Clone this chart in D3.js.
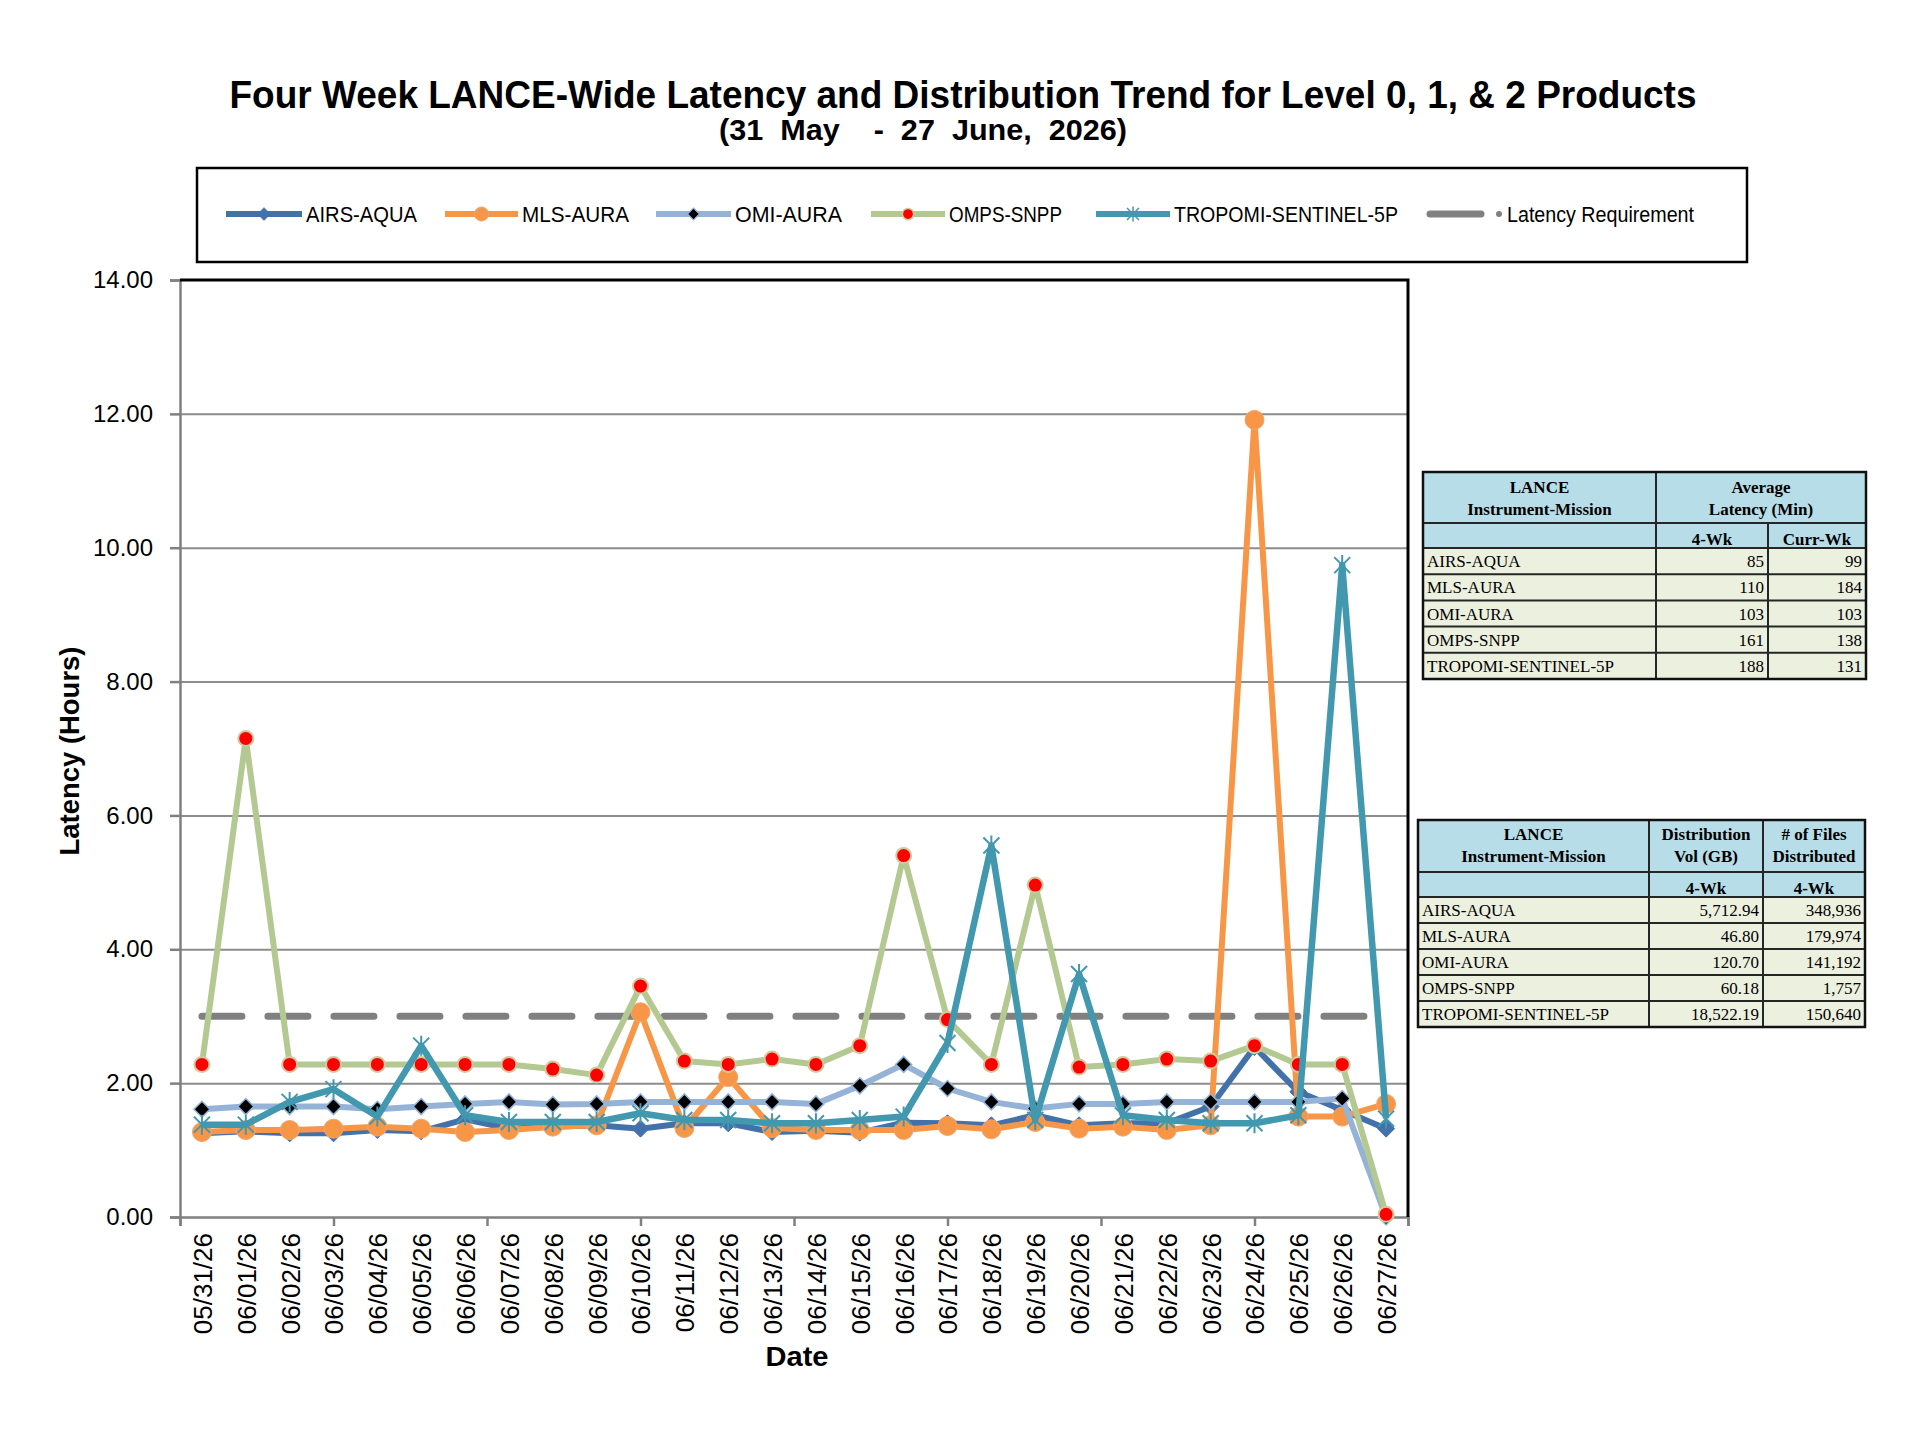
<!DOCTYPE html>
<html lang="en">
<head>
<meta charset="UTF-8">
<title>Four Week LANCE-Wide Latency and Distribution Trend</title>
<script src="https://d3js.org/d3.v7.min.js"></script>
<style>
  body { margin: 0; background: #fff; }
  svg { display: block; }
  text { font-family: "Liberation Sans", Arial, sans-serif; fill: #000; }
  .narrow { font-family: "Liberation Sans Narrow", "Arial Narrow", "Liberation Sans", sans-serif; }
  .tbl text { font-family: "Liberation Serif", "DejaVu Serif", serif; }
</style>
</head>
<body>
<svg id="chart" width="1920" height="1440"></svg>

<script>
// ---- data ----
const dates = ["05/31/26", "06/01/26", "06/02/26", "06/03/26", "06/04/26", "06/05/26", "06/06/26",
  "06/07/26", "06/08/26", "06/09/26", "06/10/26", "06/11/26", "06/12/26", "06/13/26",
  "06/14/26", "06/15/26", "06/16/26", "06/17/26", "06/18/26", "06/19/26", "06/20/26",
  "06/21/26", "06/22/26", "06/23/26", "06/24/26", "06/25/26", "06/26/26", "06/27/26"];

const airsAqua = [1.25, 1.28, 1.25, 1.25, 1.30, 1.28, 1.46, 1.32, 1.35, 1.37, 1.32, 1.40, 1.40, 1.27,
  1.29, 1.26, 1.41, 1.40, 1.37, 1.52, 1.37, 1.40, 1.40, 1.65, 2.54, 1.87, 1.60, 1.32];
const mlsAura = [1.27, 1.30, 1.30, 1.32, 1.35, 1.32, 1.27, 1.30, 1.35, 1.37, 3.06, 1.33, 2.09, 1.33,
  1.30, 1.30, 1.30, 1.36, 1.31, 1.42, 1.32, 1.35, 1.30, 1.37, 11.91, 1.50, 1.50, 1.69];
const omiAura = [1.61, 1.65, 1.65, 1.65, 1.61, 1.65, 1.69, 1.72, 1.68, 1.69, 1.72, 1.72, 1.72, 1.72,
  1.69, 1.96, 2.28, 1.92, 1.72, 1.62, 1.69, 1.69, 1.72, 1.72, 1.72, 1.72, 1.77, 0.00];
const ompsSnpp = [2.28, 7.15, 2.28, 2.28, 2.28, 2.28, 2.28, 2.28, 2.21, 2.12, 3.45, 2.33, 2.28, 2.36,
  2.28, 2.56, 5.40, 2.95, 2.28, 4.96, 2.24, 2.28, 2.36, 2.33, 2.56, 2.28, 2.28, 0.04];
const tropomi = [1.38, 1.38, 1.72, 1.91, 1.50, 2.56, 1.52, 1.42, 1.42, 1.42, 1.55, 1.45, 1.45, 1.40,
  1.40, 1.45, 1.50, 2.60, 5.55, 1.45, 3.63, 1.52, 1.45, 1.40, 1.40, 1.52, 9.74, 1.47];
const latencyReq = [3, 3, 3, 3, 3, 3, 3, 3, 3, 3, 3, 3, 3, 3,
  3, 3, 3, 3, 3, 3, 3, 3, 3, 3, 3, 3, 3, 3];

const yTicks = [0, 2, 4, 6, 8, 10, 12, 14];

// table values
const missions = ["AIRS-AQUA", "MLS-AURA", "OMI-AURA", "OMPS-SNPP", "TROPOMI-SENTINEL-5P"];
const latency4Wk = ["85", "110", "103", "161", "188"];
const latencyCurrWk = ["99", "184", "103", "138", "131"];
const distVol4Wk = ["5,712.94", "46.80", "120.70", "60.18", "18,522.19"];
const filesDist4Wk = ["348,936", "179,974", "141,192", "1,757", "150,640"];

// ---- series styling ----
const series = [
  {name: "AIRS-AQUA", values: airsAqua, color: "#4372aa", width: 6, marker: "airs"},
  {name: "MLS-AURA", values: mlsAura, color: "#f79646", width: 6, marker: "mls"},
  {name: "OMI-AURA", values: omiAura, color: "#95b3d7", width: 6, marker: "omi"},
  {name: "OMPS-SNPP", values: ompsSnpp, color: "#b3c991", width: 6, marker: "omps"},
  {name: "TROPOMI-SENTINEL-5P", values: tropomi, color: "#4198af", width: 6.5, marker: "tropomi"}
];

const svg = d3.select("#chart");
const plot = {left: 180, right: 1408, top: 280, bottom: 1217};

const x = d3.scalePoint().domain(dates).range([plot.left, plot.right]).padding(0.5);
const y = d3.scaleLinear().domain([0, 14]).range([plot.bottom, plot.top]);

const diamond = r => `M0,${-r}L${r},0L0,${r}L${-r},0Z`;

function drawMarker(sel, kind, color) {
  if (kind === "airs") {
    sel.append("path").attr("d", diamond(8.5))
      .attr("fill", color).attr("stroke", color).attr("stroke-width", 1);
  } else if (kind === "mls") {
    sel.append("circle").attr("r", 9.5).attr("fill", color).attr("stroke", "#f5a56a").attr("stroke-width", 1);
  } else if (kind === "omi") {
    sel.append("path").attr("d", diamond(8))
      .attr("fill", "#000").attr("stroke", "#95b3d7").attr("stroke-width", 1.5);
  } else if (kind === "omps") {
    sel.append("circle").attr("r", 7.5).attr("fill", "#ff0000").attr("stroke", "#d2c9a0").attr("stroke-width", 2);
  } else if (kind === "tropomi") {
    sel.append("path").attr("d", "M-8,-8L8,8M-8,8L8,-8M0,-10L0,10")
      .attr("fill", "none").attr("stroke", color).attr("stroke-width", 2);
  }
}

// ---- title ----
svg.append("text").attr("class", "narrow")
  .attr("x", 963).attr("y", 108).attr("text-anchor", "middle")
  .attr("font-size", 38).attr("font-weight", "bold")
  .attr("textLength", 1467).attr("lengthAdjust", "spacingAndGlyphs")
  .text("Four Week LANCE-Wide Latency and Distribution Trend for Level 0, 1, & 2 Products");
svg.append("text").attr("class", "narrow")
  .attr("x", 923).attr("y", 140).attr("text-anchor", "middle")
  .attr("font-size", 30).attr("font-weight", "bold")
  .attr("textLength", 408).attr("lengthAdjust", "spacingAndGlyphs")
  .style("white-space", "pre")
  .text("(31  May    -  27  June,  2026)");

// ---- legend ----
const legend = svg.append("g");
legend.append("rect").attr("x", 197).attr("y", 168).attr("width", 1550).attr("height", 94)
  .attr("fill", "#fff").attr("stroke", "#000").attr("stroke-width", 2.5);
const legendItems = [
  {lx: 226, len: 76, tw: 111},
  {lx: 445, len: 73, tw: 107},
  {lx: 656, len: 75, tw: 107},
  {lx: 871, len: 74, tw: 113},
  {lx: 1096, len: 74, tw: 224},
  {lx: 1430, len: 51, tw: 209}
];
const legendData = series.map((s, i) => Object.assign({}, s, legendItems[i]))
  .concat([Object.assign({name: "Latency Requirement", color: "#808080", width: 7, marker: null}, legendItems[5])]);
const li = legend.selectAll("g.item").data(legendData).join("g").attr("class", "item");
li.append("line")
  .attr("x1", d => d.lx).attr("x2", d => d.lx + d.len).attr("y1", 214).attr("y2", 214)
  .attr("stroke", d => d.color).attr("stroke-width", d => d.marker ? 6 : 7)
  .attr("stroke-linecap", d => d.marker ? "butt" : "round");
li.filter(d => d.marker).each(function(d) {
  const g = d3.select(this).append("g")
    .attr("transform", `translate(${d.lx + d.len / 2},214) scale(0.75)`);
  drawMarker(g, d.marker, d.color);
});
li.filter(d => !d.marker).append("circle")
  .attr("cx", d => d.lx + d.len + 18).attr("cy", 214).attr("r", 3).attr("fill", "#808080");
li.append("text").attr("class", "narrow")
  .attr("x", d => d.lx + d.len + (d.marker ? 4 : 26)).attr("y", 222)
  .attr("font-size", 22)
  .attr("textLength", d => d.marker ? d.tw : d.tw - 22).attr("lengthAdjust", "spacingAndGlyphs")
  .text(d => d.name);

// ---- gridlines ----
svg.append("g").attr("transform", `translate(${plot.left},0)`)
  .call(d3.axisLeft(y).tickValues(yTicks.slice(1, -1)).tickSize(-(plot.right - plot.left)).tickFormat(""))
  .call(g => g.select(".domain").remove())
  .selectAll("line").attr("stroke", "#8c8c8c").attr("stroke-width", 2);

// ---- y axis ----
svg.append("g").attr("transform", `translate(${plot.left},0)`)
  .call(d3.axisLeft(y).tickValues(yTicks).tickFormat(d3.format(".2f")).tickSize(10).tickPadding(17))
  .call(g => g.select(".domain").attr("stroke", "#808080").attr("stroke-width", 2.5))
  .call(g => g.selectAll(".tick line").attr("stroke", "#808080").attr("stroke-width", 2.5))
  .call(g => g.selectAll(".tick text").attr("font-size", 24).attr("fill", "#000")
    .style("font-family", "'Liberation Sans', Arial, sans-serif"));

// ---- x axis: tick marks divide the axis into 8 parts ----
const xTickScale = d3.scaleLinear().domain([0, 8]).range([plot.left, plot.right]);
svg.append("g").attr("transform", `translate(0,${plot.bottom})`)
  .call(d3.axisBottom(xTickScale).ticks(8).tickSize(9).tickSizeOuter(9).tickFormat(""))
  .call(g => g.select(".domain").attr("stroke", "#808080").attr("stroke-width", 2.5))
  .call(g => g.selectAll(".tick line").attr("stroke", "#808080").attr("stroke-width", 2.5));

svg.append("g").attr("transform", `translate(0,${plot.bottom})`)
  .call(d3.axisBottom(x).tickSize(0).tickPadding(0))
  .call(g => g.select(".domain").remove())
  .selectAll("text")
  .attr("transform", "rotate(-90)")
  .attr("x", -16).attr("y", 0).attr("dy", "0.36em")
  .attr("text-anchor", "end")
  .attr("font-size", 26).attr("fill", "#000")
  .style("font-family", "'Liberation Sans', Arial, sans-serif");

// top and right frame of the plot area
svg.append("path")
  .attr("d", `M${plot.left},${plot.top}H${plot.right}V${plot.bottom}`)
  .attr("fill", "none").attr("stroke", "#000").attr("stroke-width", 3);

// axis titles
svg.append("text").attr("class", "narrow")
  .attr("transform", "translate(79,751) rotate(-90)")
  .attr("text-anchor", "middle").attr("font-size", 27).attr("font-weight", "bold")
  .attr("textLength", 209).attr("lengthAdjust", "spacingAndGlyphs")
  .text("Latency (Hours)");
svg.append("text").attr("class", "narrow")
  .attr("x", 797).attr("y", 1366).attr("text-anchor", "middle")
  .attr("font-size", 27).attr("font-weight", "bold")
  .attr("textLength", 63).attr("lengthAdjust", "spacingAndGlyphs")
  .text("Date");

// ---- lines ----
const line = d3.line().x((d, i) => x(dates[i])).y(d => y(d));

svg.append("path").datum(latencyReq)
  .attr("d", line).attr("fill", "none")
  .attr("stroke", "#808080").attr("stroke-width", 7)
  .attr("stroke-dasharray", "40 26").attr("stroke-linecap", "round");

series.forEach(s => {
  const g = svg.append("g");
  g.append("path").datum(s.values)
    .attr("d", line).attr("fill", "none")
    .attr("stroke", s.color).attr("stroke-width", s.width)
    .attr("stroke-linejoin", "round");
  g.selectAll("g.pt").data(s.values).join("g").attr("class", "pt")
    .attr("transform", (d, i) => `translate(${x(dates[i])},${y(d)})`)
    .each(function() { drawMarker(d3.select(this), s.marker, s.color); });
});

// ---- tables ----
function drawTable(cfg) {
  const g = svg.append("g").attr("class", "tbl");
  const cols = cfg.cols;
  const rowYs = [cfg.dataTop];
  cfg.rows.forEach((r, i) => rowYs.push(cfg.dataTop + (i + 1) * cfg.rowH));
  const bottom = rowYs[rowYs.length - 1];

  // backgrounds
  g.append("rect").attr("x", cols[0]).attr("y", cfg.head[0])
    .attr("width", cols[cols.length - 1] - cols[0]).attr("height", cfg.dataTop - cfg.head[0])
    .attr("fill", "#b7dde8");
  g.append("rect").attr("x", cols[0]).attr("y", cfg.dataTop)
    .attr("width", cols[cols.length - 1] - cols[0]).attr("height", bottom - cfg.dataTop)
    .attr("fill", "#ecf0df");

  // header texts
  cfg.headCells.forEach(c => {
    const cx = (cols[c.c0] + cols[c.c1]) / 2;
    c.lines.forEach((t, k) => {
      g.append("text").attr("x", cx).attr("y", c.y[k])
        .attr("text-anchor", "middle").attr("font-size", 17).attr("font-weight", "bold")
        .attr("fill", "#1a1a1a").text(t);
    });
  });

  // body rows
  const rowG = g.selectAll("g.row").data(cfg.rows).join("g").attr("class", "row");
  rowG.each(function(r, i) {
    const ty = rowYs[i] + cfg.rowH / 2 + 6;
    const rg = d3.select(this);
    r.forEach((v, j) => {
      rg.append("text")
        .attr("x", j === 0 ? cols[0] + 4 : cols[j + 1] - 4).attr("y", ty)
        .attr("text-anchor", j === 0 ? "start" : "end")
        .attr("font-size", 17).attr("fill", "#333").text(v);
    });
  });

  // grid lines
  const stroke = "#262626";
  [cfg.head[1], cfg.dataTop].concat(rowYs.slice(1, -1)).forEach(yy => {
    g.append("line").attr("x1", cols[0]).attr("x2", cols[cols.length - 1])
      .attr("y1", yy).attr("y2", yy).attr("stroke", stroke).attr("stroke-width", 2);
  });
  g.append("line").attr("x1", cols[1]).attr("x2", cols[1]).attr("y1", cfg.head[0]).attr("y2", bottom)
    .attr("stroke", stroke).attr("stroke-width", 2);
  g.append("line").attr("x1", cols[2]).attr("x2", cols[2])
    .attr("y1", cfg.splitHead ? cfg.head[0] : cfg.head[1]).attr("y2", bottom)
    .attr("stroke", stroke).attr("stroke-width", 2);
  g.append("rect").attr("x", cols[0]).attr("y", cfg.head[0])
    .attr("width", cols[cols.length - 1] - cols[0]).attr("height", bottom - cfg.head[0])
    .attr("fill", "none").attr("stroke", "#111").attr("stroke-width", 2.5);
}

drawTable({
  cols: [1423, 1656, 1768, 1866],
  head: [472, 523],
  dataTop: 548,
  rowH: 26.2,
  splitHead: false,
  headCells: [
    {c0: 0, c1: 1, lines: ["LANCE", "Instrument-Mission"], y: [493, 515]},
    {c0: 1, c1: 3, lines: ["Average", "Latency (Min)"], y: [493, 515]},
    {c0: 1, c1: 2, lines: ["4-Wk"], y: [545]},
    {c0: 2, c1: 3, lines: ["Curr-Wk"], y: [545]}
  ],
  rows: missions.map((m, i) => [m, latency4Wk[i], latencyCurrWk[i]])
});

drawTable({
  cols: [1418, 1649, 1763, 1865],
  head: [820, 872],
  dataTop: 897,
  rowH: 26,
  splitHead: true,
  headCells: [
    {c0: 0, c1: 1, lines: ["LANCE", "Instrument-Mission"], y: [840, 862]},
    {c0: 1, c1: 2, lines: ["Distribution", "Vol (GB)"], y: [840, 862]},
    {c0: 2, c1: 3, lines: ["# of Files", "Distributed"], y: [840, 862]},
    {c0: 1, c1: 2, lines: ["4-Wk"], y: [894]},
    {c0: 2, c1: 3, lines: ["4-Wk"], y: [894]}
  ],
  rows: missions.map((m, i) => [m, distVol4Wk[i], filesDist4Wk[i]])
});
</script>
</body>
</html>
